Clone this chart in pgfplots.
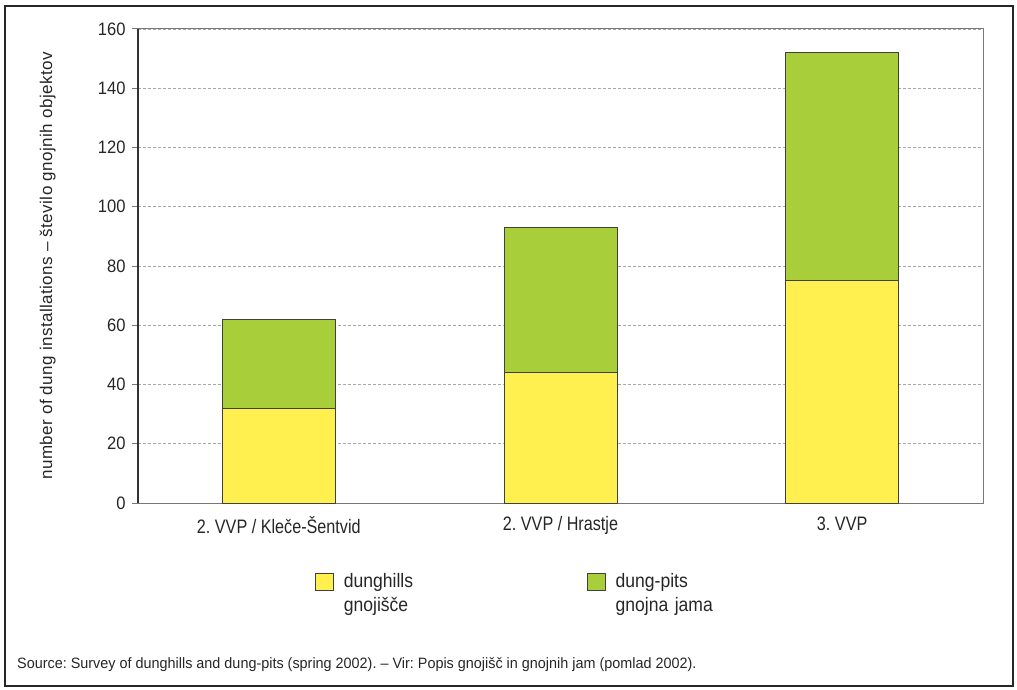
\documentclass[border=0pt]{standalone}
\usepackage{pgfplots}
\pgfplotsset{compat=1.18}
\usepackage{fontspec}
\setmainfont{Liberation Sans}
\newfontfamily\tickfont{Liberation Sans}[FakeStretch=0.92]
\newfontfamily\catfont{Liberation Sans}[FakeStretch=0.83]
\newfontfamily\legfont{Liberation Sans}[FakeStretch=0.9]
\newfontfamily\labfont{Liberation Sans}[LetterSpace=2.5]
\newfontfamily\srcfont{Liberation Sans}[FakeStretch=0.96]
\frenchspacing
\definecolor{dungyellow}{RGB}{255,240,80}
\definecolor{dunggreen}{RGB}{168,207,58}
\definecolor{axisgray}{RGB}{120,120,120}

\begin{document}
\begin{tikzpicture}
\useasboundingbox (0pt,0pt) rectangle (1017pt,689pt);
\draw[line width=2pt, black!85] (5pt,3pt) rectangle (1013pt,683pt);
\begin{axis}[
  at={(138pt,186pt)}, anchor=south west,
  scale only axis, width=845pt, height=474pt,
  ymin=0, ymax=160, ytick={0,20,...,160},
  xmin=-0.5, xmax=2.5, xtick=data,
  xticklabels={2. VVP / Kleče-Šentvid, 2. VVP / Hrastje, 3. VVP},
  ybar stacked, bar width=113pt,
  axis line style={axisgray, line width=1pt},
  ytick pos=left, tick align=outside, major tick length=6pt,
  ytick style={axisgray, line width=1pt},
  xtick style={draw=none},
  ymajorgrids, major grid style={densely dashed, gray!70, line width=0.6pt},
  /pgf/number format/assume math mode=true,
  tick label style={text=black!85},
  yticklabel style={font=\tickfont\fontsize{18}{22}\selectfont, xshift=-3pt},
  xticklabel style={font=\catfont\fontsize{19.5}{23}\selectfont, yshift=-4pt},
  every axis y label/.style={at={(axis description cs:-0.107,0.5)}, rotate=90, anchor=center,
    font=\labfont\fontsize{17}{20}\selectfont, text=black!85},
  ylabel={number of dung installations – število gnojnih objektov},
  legend style={at={(rel axis cs:0.2095,-0.1477)}, anchor=north west, draw=none,
    inner sep=0pt, outer sep=0pt,
    legend columns=2, font=\legfont\fontsize{19.5}{23.5}\selectfont,
    nodes={anchor=north west, align=left, inner sep=0pt, text width=243pt, text=black!85},
    /tikz/every odd column/.append style={column sep=10pt}},
  legend image code/.code={\draw[#1, draw=black!75, line width=0.8pt] (0pt,-17pt) rectangle (18pt,0pt);},
  after end axis/.code={\draw[black!80, line width=1.2pt] (rel axis cs:0,0) -- (rel axis cs:0,1);},
]
\addplot[fill=dungyellow, draw=black!75, line width=0.8pt] coordinates {(0,32) (1,44) (2,75)};
\addlegendentry{dunghills\\gnojišče}
\addplot[fill=dunggreen, draw=black!75, line width=0.8pt] coordinates {(0,30) (1,49) (2,77)};
\addlegendentry{dung-pits\\gnojna jama}
\end{axis}
\node[anchor=base west, font=\srcfont\fontsize{15}{18}\selectfont, text=black!85, inner sep=0pt] at (17pt,21pt) {Source: Survey of dunghills and dung-pits (spring 2002). – Vir: Popis gnojišč in gnojnih jam (pomlad 2002).};
\end{tikzpicture}
\end{document}
